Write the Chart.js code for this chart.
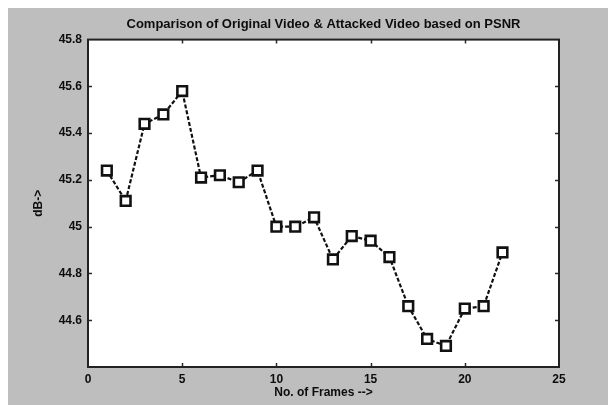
<!DOCTYPE html>
<html>
<head>
<meta charset="utf-8">
<title>PSNR comparison</title>
<script src="https://cdn.jsdelivr.net/npm/chart.js@4/dist/chart.umd.min.js"></script>
<style>
  html, body { margin: 0; padding: 0; background: #ffffff; }
  #wrap { width: 608px; height: 405px; position: relative; }
</style>
</head>
<body>
<div id="wrap"><canvas id="chart" width="608" height="405"></canvas></div>
<script>
// Frame numbers and PSNR (dB) per frame
const frames = [1, 2, 3, 4, 5, 6, 7, 8, 9, 10, 11, 12, 13, 14, 15, 16, 17, 18, 19, 20, 21, 22];
const psnr = [45.24, 45.11, 45.44, 45.48, 45.58, 45.21, 45.22, 45.19, 45.24, 45.00, 45.00,
              45.04, 44.86, 44.96, 44.94, 44.87, 44.66, 44.52, 44.49, 44.65, 44.66, 44.89];

// Axis ranges and tick steps
const xRange = [0, 25];
const xStep = 5;
const yRange = [44.4, 45.8];
const yStep = 0.2;
const yHiddenTicks = [44.4];

const titleText = 'Comparison of Original Video & Attacked Video based on PSNR';
const xTitle = 'No. of Frames -->';
const yTitle = 'dB->';

const FIG_BG = '#bebebe';
const INK = '#0d0d0d';
const tickFont = { family: '"Liberation Sans", Arial, Helvetica, sans-serif', size: 12, weight: 'bold' };

// Grey figure panel plus white axes area
const panelPlugin = {
  id: 'panel',
  beforeDraw(chart) {
    const { ctx, chartArea: a } = chart;
    ctx.save();
    ctx.fillStyle = FIG_BG;
    ctx.fillRect(8, 8, chart.width - 8, chart.height - 8);
    ctx.fillStyle = '#ffffff';
    ctx.fillRect(a.left, a.top, a.right - a.left, a.bottom - a.top);
    ctx.restore();
  }
};

// Boxed axes with inward tick marks on all four sides
const boxPlugin = {
  id: 'box',
  afterDraw(chart) {
    const { ctx, chartArea: a, scales: { x, y } } = chart;
    const len = 4;
    ctx.save();
    ctx.strokeStyle = '#2a2a2a';
    ctx.lineWidth = 1.5;
    ctx.beginPath();
    x.ticks.forEach(t => {
      const px = Math.round(x.getPixelForValue(t.value)) + 0.5;
      if (px <= a.left + 1 || px >= a.right - 1) return;
      ctx.moveTo(px, a.bottom); ctx.lineTo(px, a.bottom - len);
      ctx.moveTo(px, a.top); ctx.lineTo(px, a.top + len);
    });
    y.ticks.forEach(t => {
      const py = Math.round(y.getPixelForValue(t.value)) + 0.5;
      if (py <= a.top + 1 || py >= a.bottom - 1) return;
      ctx.moveTo(a.left, py); ctx.lineTo(a.left + len, py);
      ctx.moveTo(a.right, py); ctx.lineTo(a.right - len, py);
    });
    ctx.stroke();
    ctx.lineWidth = 2;
    ctx.strokeStyle = '#222222';
    ctx.strokeRect(a.left, a.top, a.right - a.left, a.bottom - a.top);
    ctx.restore();
  }
};

new Chart(document.getElementById('chart'), {
  type: 'line',
  data: {
    datasets: [{
      data: frames.map((f, i) => ({ x: f, y: psnr[i] })),
      borderColor: '#111111',
      borderWidth: 2.2,
      borderDash: [4, 2],
      pointStyle: 'rect',
      pointRadius: 6.8,
      pointBorderWidth: 2.6,
      pointBorderColor: '#111111',
      pointBackgroundColor: '#ffffff',
      tension: 0,
      fill: false
    }]
  },
  options: {
    responsive: false,
    animation: false,
    devicePixelRatio: 1,
    layout: { padding: { left: 0, top: 0, right: 49, bottom: 0 } },
    plugins: {
      legend: { display: false },
      tooltip: { enabled: false },
      title: {
        display: true,
        text: titleText,
        fullSize: false,
        color: INK,
        font: { family: '"Liberation Sans", Arial, Helvetica, sans-serif', size: 13, weight: 'bold' },
        padding: { top: 17, bottom: 7 }
      }
    },
    scales: {
      x: {
        type: 'linear',
        min: xRange[0],
        max: xRange[1],
        afterFit(scale) { scale.height = 38; },
        grid: { display: false, drawTicks: false },
        border: { display: false },
        ticks: { stepSize: xStep, color: INK, font: tickFont, padding: 5, maxRotation: 0 },
        title: {
          display: true, text: xTitle, color: INK, font: tickFont,
          padding: { top: 0, bottom: 5 }
        }
      },
      y: {
        type: 'linear',
        min: yRange[0],
        max: yRange[1],
        afterFit(scale) { scale.width = 88; },
        grid: { display: false, drawTicks: false },
        border: { display: false },
        ticks: {
          stepSize: yStep, color: INK, font: tickFont, padding: 6,
          callback(v) {
            const r = Math.round(v * 10) / 10;
            if (yHiddenTicks.some(h => Math.abs(h - r) < 1e-6)) return '';
            return String(r);
          }
        },
        title: {
          display: true, text: yTitle, color: INK, font: tickFont,
          padding: { top: 31, bottom: 0 }
        }
      }
    }
  },
  plugins: [panelPlugin, boxPlugin]
});
</script>
</body>
</html>
